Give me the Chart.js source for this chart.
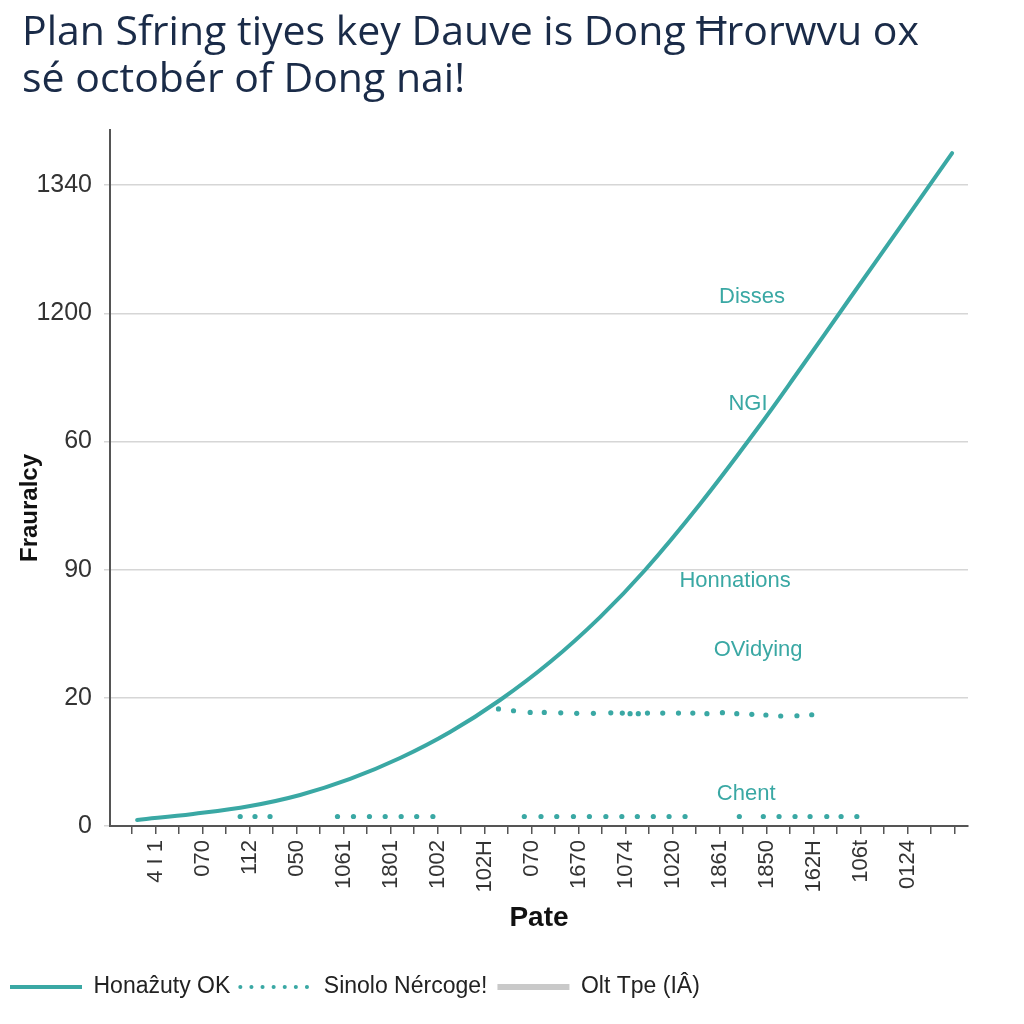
<!DOCTYPE html>
<html>
<head>
<meta charset="utf-8">
<script src="https://cdn.jsdelivr.net/npm/chart.js@4.4.1/dist/chart.umd.min.js"></script>
<style>
  html, body { margin: 0; padding: 0; background: #ffffff; }
  #wrap { width: 1024px; height: 1024px; position: relative; }
</style>
</head>
<body>
<div id="wrap"><canvas id="c" width="1024" height="1024"></canvas></div>
<script>
// ---- Data ----
const titleLines = ["Plan Sfring tiyes key Dauve is Dong \u0126rorwvu ox", "s\u00e9 octob\u00e9r of Dong nai!"];
const yTickLabels = ["0", "20", "90", "60", "1200", "1340"];
const xTickLabels = ["4 I 1", "070", "112", "050", "1061", "1801", "1002", "102H", "070",
                     "1670", "1074", "1020", "1861", "1850", "162H", "106t", "0124"];
const legendNames = ["Hona\u1e91uty OK", "Sinolo N\u00e9rcoge!", "Olt Tpe (I\u00c2)"];
const xTitle = "Pate";
const yTitle = "Frauralcy";

// solid curve
const curveX = [0.213, 2.596, 5.021, 7.149, 9.277, 11.404, 13.532, 15.66, 17.787, 19.915, 21.83, 24.17, 26.596, 28.426, 30.553, 32.681, 34.894];
const curveY = [0.047, 0.094, 0.156, 0.242, 0.367, 0.530, 0.733, 0.983, 1.279, 1.630, 1.997, 2.512, 3.097, 3.565, 4.119, 4.672, 5.250];

// dotted points (upper row + lower row)
const dotsUpperX = [15.59, 16.23, 16.94, 17.54, 18.24, 18.92, 19.63, 20.37, 20.86, 21.19, 21.54, 21.93, 22.58, 23.25, 23.86, 24.46, 25.12, 25.73, 26.37, 26.97, 27.6, 28.29, 28.92];
const dotsUpperY = [0.913, 0.899, 0.886, 0.886, 0.883, 0.879, 0.879, 0.883, 0.881, 0.876, 0.876, 0.881, 0.881, 0.881, 0.881, 0.876, 0.884, 0.876, 0.871, 0.866, 0.858, 0.860, 0.868];
const dotsLowerX = [4.6, 5.23, 5.87, 8.74, 9.42, 10.1, 10.77, 11.45, 12.11, 12.8, 16.69, 17.4, 18.07, 18.78, 19.46, 20.16, 20.84, 21.5, 22.18, 22.85, 23.53, 25.84, 26.86, 27.53, 28.21, 28.85, 29.56, 30.17, 30.84];
const dotsLowerY = [0.074, 0.074, 0.074, 0.074, 0.074, 0.074, 0.074, 0.074, 0.074, 0.074, 0.074, 0.074, 0.074, 0.074, 0.074, 0.074, 0.074, 0.074, 0.074, 0.074, 0.074, 0.074, 0.074, 0.074, 0.074, 0.074, 0.074, 0.074, 0.074];

// in-plot text labels
const noteTexts = ["Disses", "NGI", "Honnations", "OVidying", "Chent"];
const noteX = [26.38, 26.21, 25.66, 26.64, 26.13];
const noteY = [4.13, 3.29, 1.91, 1.37, 0.25];

// ---- Styling ----
const TEAL = "#3aa8a4";
const GREY_LEG = "#c9c9c9";

const curveData = curveX.map((x, i) => ({x: x, y: curveY[i]}));
const dotData = dotsUpperX.map((x, i) => ({x: x, y: dotsUpperY[i]}))
  .concat(dotsLowerX.map((x, i) => ({x: x, y: dotsLowerY[i]})));

const notesPlugin = {
  id: "notes",
  afterDatasetsDraw(chart) {
    const ctx = chart.ctx;
    const xs = chart.scales.x, ys = chart.scales.y;
    ctx.save();
    ctx.font = "22px 'Liberation Sans', Arial, sans-serif";
    ctx.fillStyle = TEAL;
    ctx.textAlign = "center";
    ctx.textBaseline = "middle";
    noteTexts.forEach((t, i) => {
      ctx.fillText(t, xs.getPixelForValue(noteX[i]), ys.getPixelForValue(noteY[i]));
    });
    ctx.restore();
  }
};

const titleShift = {
  id: "titleShift",
  afterLayout(chart) {
    if (chart.titleBlock) { chart.titleBlock.left = 22; }
  }
};

new Chart(document.getElementById("c"), {
  type: "scatter",
  data: {
    datasets: [
      {
        label: legendNames[0],
        data: curveData,
        showLine: true,
        borderColor: TEAL,
        backgroundColor: TEAL,
        borderWidth: 4,
        borderCapStyle: "round",
        pointRadius: 0,
        tension: 0.4
      },
      {
        label: legendNames[1],
        data: dotData,
        showLine: false,
        pointRadius: 2.6,
        pointBorderWidth: 0,
        backgroundColor: TEAL,
        borderColor: TEAL
      },
      {
        label: legendNames[2],
        data: [],
        showLine: true,
        borderColor: GREY_LEG,
        borderWidth: 6,
        pointRadius: 0
      }
    ]
  },
  options: {
    responsive: false,
    animation: false,
    layout: { padding: { left: 0, right: 56, top: 0, bottom: 15.5 } },
    plugins: {
      title: {
        display: true,
        text: titleLines,
        align: "start",
        color: "#1a2b48",
        font: { family: "'Open Sans', Lato, sans-serif", size: 41, weight: "normal", lineHeight: 1.146 },
        padding: { top: 10, bottom: 26 }
      },
      legend: {
        display: true,
        position: "bottom",
        align: "start",
        labels: {
          usePointStyle: true,
          pointStyleWidth: 72,
          boxHeight: 4,
          padding: 10,
          color: "#222",
          font: { family: "'Liberation Sans', Arial, sans-serif", size: 23 },
          generateLabels: () => [
            { text: legendNames[0], fillStyle: TEAL, strokeStyle: TEAL, lineWidth: 4, pointStyle: "line", lineCap: "butt", datasetIndex: 0, fontColor: "#222" },
            { text: legendNames[1], fillStyle: TEAL, strokeStyle: TEAL, lineWidth: 4, pointStyle: "line", lineCap: "round", lineDash: [0.1, 11], datasetIndex: 1, fontColor: "#222" },
            { text: legendNames[2], fillStyle: GREY_LEG, strokeStyle: GREY_LEG, lineWidth: 6, pointStyle: "line", lineCap: "butt", datasetIndex: 2, fontColor: "#222" }
          ]
        }
      },
      tooltip: { enabled: false }
    },
    scales: {
      x: {
        type: "linear",
        min: -0.94,
        max: 35.57,
        afterFit(scale) { scale.height = 139.5; },
        border: { display: true, color: "#555", width: 2 },
        grid: { drawOnChartArea: false, drawTicks: true, tickLength: 8, color: "#555", lineWidth: 1.5 },
        ticks: {
          stepSize: 1,
          includeBounds: false,
          autoSkip: false,
          minRotation: 90,
          maxRotation: 90,
          padding: 6,
          color: "#333",
          font: { family: "'Liberation Sans', Arial, sans-serif", size: 22 },
          callback: function (v) {
            const k = Math.round(v);
            if (k % 2 === 1) {
              const idx = (k - 1) / 2;
              return idx < xTickLabels.length ? xTickLabels[idx] : "";
            }
            return "";
          }
        },
        title: {
          display: true,
          text: xTitle,
          color: "#111",
          font: { family: "'Liberation Sans', Arial, sans-serif", size: 28, weight: "bold" },
          padding: { top: 0, bottom: 30.7 }
        }
      },
      y: {
        type: "linear",
        min: 0,
        max: 5.43,
        afterFit(scale) { scale.width = 110; },
        border: { display: true, color: "#555", width: 2 },
        grid: { color: "#d6d6d6", lineWidth: 1.5, tickLength: 6 },
        ticks: {
          stepSize: 1,
          includeBounds: false,
          padding: 12,
          color: "#333",
          font: { family: "'Liberation Sans', Arial, sans-serif", size: 25 },
          callback: function (v) {
            const k = Math.round(v);
            return k >= 0 && k < yTickLabels.length ? yTickLabels[k] : "";
          }
        },
        title: {
          display: true,
          text: yTitle + "         ",
          color: "#111",
          font: { family: "'Liberation Sans', Arial, sans-serif", size: 24, weight: "bold" },
          padding: { top: 15.6, bottom: 0 }
        }
      }
    }
  },
  plugins: [notesPlugin, titleShift]
});
</script>
</body>
</html>
